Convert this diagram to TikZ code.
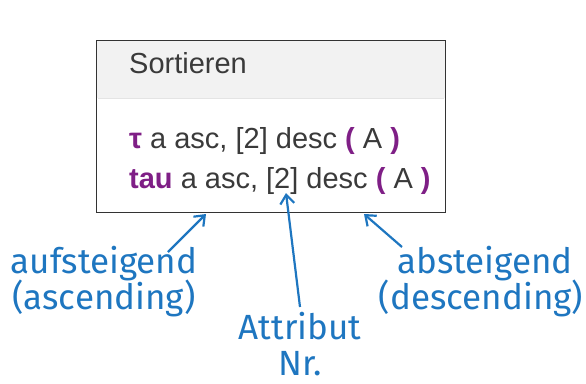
\documentclass[tikz,border=0pt]{standalone}
\usepackage{fontspec}
\setmainfont{Liberation Sans}
\newfontfamily\labelfont{Fira Sans}
\usetikzlibrary{arrows.meta}
\definecolor{boxtext}{HTML}{3A3A3A}
\definecolor{kw}{HTML}{7F1F86}
\definecolor{lblue}{HTML}{1E76C0}
\definecolor{hdr}{HTML}{F2F2F2}
\definecolor{hdrline}{HTML}{E4E4E4}
\begin{document}
\begin{tikzpicture}[x=1pt,y=-1pt,
  boxtxt/.style={anchor=base west,inner sep=0pt,text=boxtext,font=\fontsize{29}{33}\selectfont},
  lbl/.style={align=center,inner sep=0pt,text=lblue,font=\labelfont\fontsize{35}{39}\selectfont},
  arr/.style={draw=lblue,line width=2.2pt,-{Straight Barb[length=9pt,width=14pt,line width=2.2pt]}}]
\useasboundingbox (0,0) rectangle (586,383);
% box
\fill[hdr] (96,40) rectangle (445,98);
\draw[hdrline,line width=1pt] (98,98) -- (444,98);
\node[draw=black!80,line width=1.2pt,minimum width=349pt,minimum height=172pt,anchor=north west,inner sep=0pt] (box) at (96,40) {};
\node[boxtxt] (title) at (129,73) {Sortieren};
\node[boxtxt] (l1) at (129,148) {\textcolor{kw}{\textbf{τ}} a asc, [2] desc \textcolor{kw}{\textbf{(}} A \textcolor{kw}{\textbf{)}}};
\node[boxtxt] (l2) at (129,188) {\textcolor{kw}{\textbf{tau}} a asc, [2] desc \textcolor{kw}{\textbf{(}} A \textcolor{kw}{\textbf{)}}};
% labels
\node[lbl,anchor=base] (asc1) at (104,273) {aufsteigend};
\node[lbl,anchor=base] (asc2) at (104,309) {(ascending)};
\node[lbl,anchor=base] (desc1) at (485,273) {absteigend};
\node[lbl,anchor=base] (desc2) at (481,309) {(descending)};
\node[lbl,anchor=base] (attr1) at (300,339) {Attribut};
\node[lbl,anchor=base,text depth=0pt] (attr2) at (300,375) {Nr.};
% arrow endpoints
\coordinate (a1s) at (168,252);
\coordinate (a1e) at (206,214);
\coordinate (a2s) at (300,307);
\coordinate (a2e) at (286,193);
\coordinate (a3s) at (402,247);
\coordinate (a3e) at (364,214);
\draw[arr] (a1s) -- (a1e);
\draw[arr] (a2s) -- (a2e);
\draw[arr] (a3s) -- (a3e);
\end{tikzpicture}
\end{document}
